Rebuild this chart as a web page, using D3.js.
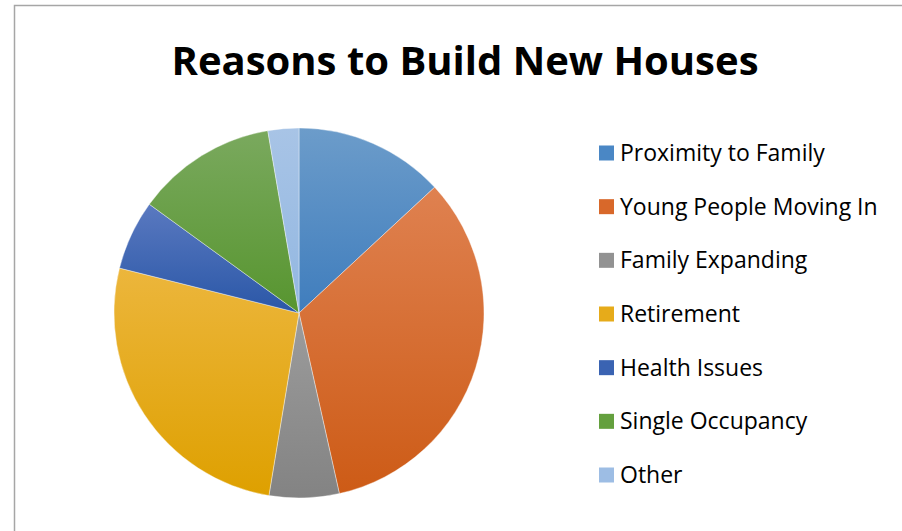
<!DOCTYPE html>
<html>
<head>
<meta charset="utf-8">
<script src="https://cdn.jsdelivr.net/npm/d3@7"></script>
<style>
  html, body { margin: 0; padding: 0; background: #fff; }
  svg { display: block; }
  text { font-family: "Open Sans", Carlito, Calibri, sans-serif; }
</style>
</head>
<body>
<svg id="chart" width="902" height="531"></svg>
<script>
const title = "Reasons to Build New Houses";
const categories = ["Proximity to Family", "Young People Moving In", "Family Expanding", "Retirement", "Health Issues", "Single Occupancy", "Other"];
const values = [13.1, 33.4, 6.1, 26.3, 6.1, 12.3, 2.7];
const topColors = ["#6c9cca", "#df8150", "#9c9c9c", "#ecb63c", "#5a79c0", "#7aa95e", "#a8c4e6"];
const bottomColors = ["#3f7dbd", "#cd5b16", "#838383", "#dea000", "#2a57a7", "#57952f", "#92b7e1"];
const legendColors = ["#4a87c5", "#d8682a", "#929292", "#e6ab1a", "#3a63b2", "#64a03e", "#9dbde4"];

const svg = d3.select("#chart");
const W = 902, H = 531;

// outer frame (only top and left edges visible)
svg.append("rect")
  .attr("x", 14.5).attr("y", 5.5)
  .attr("width", W + 20).attr("height", H + 20)
  .attr("fill", "#fff").attr("stroke", "#a6a6a6").attr("stroke-width", 1.5);

svg.append("text")
  .attr("x", 465).attr("y", 75)
  .attr("text-anchor", "middle")
  .attr("font-size", 40).attr("font-weight", "bold")
  .attr("fill", "#000")
  .text(title);

const defs = svg.append("defs");
categories.forEach((c, i) => {
  const g = defs.append("linearGradient").attr("id", "grad" + i)
    .attr("x1", 0).attr("y1", 0).attr("x2", 0).attr("y2", 1);
  g.append("stop").attr("offset", "0%").attr("stop-color", topColors[i]);
  g.append("stop").attr("offset", "100%").attr("stop-color", bottomColors[i]);
});

const cx = 299, cy = 313, r = 185;
const pie = d3.pie().sort(null).value(d => d.v);
const data = categories.map((c, i) => ({ c, v: values[i], i }));
const arc = d3.arc().innerRadius(0).outerRadius(r);

svg.append("g").attr("transform", `translate(${cx},${cy})`)
  .selectAll("path").data(pie(data)).join("path")
  .attr("d", arc)
  .attr("fill", d => `url(#grad${d.data.i})`)
  .attr("stroke", "#ffffff").attr("stroke-opacity", 0.5).attr("stroke-width", 0.75);

const legendY = d3.scalePoint().domain(categories).range([153, 475]);
const lg = svg.append("g").selectAll("g").data(data).join("g")
  .attr("transform", d => `translate(599,${legendY(d.c)})`);
lg.append("rect").attr("x", 0).attr("y", -7.5).attr("width", 15).attr("height", 15)
  .attr("fill", d => legendColors[d.i]);
lg.append("text").attr("x", 21).attr("y", 8)
  .attr("font-size", 23).attr("fill", "#000")
  .text(d => d.c);
</script>
</body>
</html>
